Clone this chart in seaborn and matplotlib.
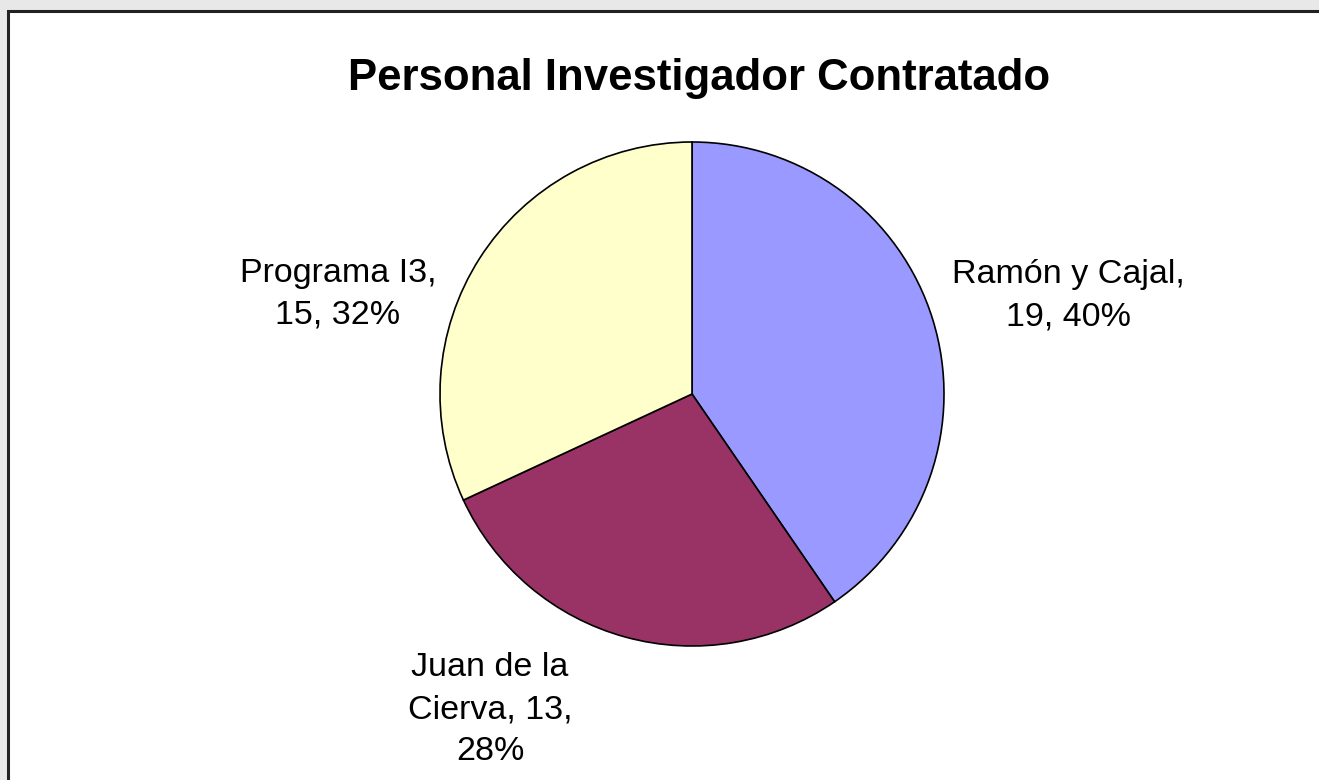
import numpy as np
import matplotlib
matplotlib.use("Agg")
import matplotlib.pyplot as plt
from matplotlib.patches import Rectangle
import seaborn as sns

# ─── Data ────────────────────────────────────────────────────────────────────
categories = ["Ramón y Cajal", "Juan de la Cierva", "Programa I3"]
counts = [19, 13, 15]
label_texts = ["Ramón y Cajal,\n19, 40%", "Juan de la\nCierva, 13,\n28%", "Programa I3,\n15, 32%"]
colors = ["#9999FF", "#993366", "#FFFFCC"]

sns.set_theme(style="white")
plt.rcParams["font.family"] = ["Liberation Sans", "DejaVu Sans"]

W, H = 1319, 780
fig = plt.figure(figsize=(W / 100, H / 100), dpi=100, facecolor="#E8E8E8")
ax = fig.add_axes([0, 0, 1, 1])

# pie (y axis gets inverted below, so counterclock=True draws clockwise on screen)
wedges, _ = ax.pie(counts, colors=colors, startangle=-90, counterclock=True,
                   center=(692, 394), radius=252, frame=True,
                   wedgeprops=dict(edgecolor="black", linewidth=1.2))
ax.set_xlim(0, W)
ax.set_ylim(H, 0)
ax.set_aspect("equal")
ax.axis("off")

# chart area frame (extends past right/bottom edges)
ax.add_patch(Rectangle((8, 11), W + 20, H + 20, facecolor="white",
                       edgecolor="#222222", linewidth=2.2, zorder=0))

# last-line baseline positions of the data labels
label_pos = [(1068, 325), (490, 760), (338, 324)]
for txt, (x, y) in zip(label_texts, label_pos):
    ax.text(x, y, txt, ha="center", va="baseline", fontsize=24.5,
            linespacing=1.45, color="black")

ax.text(699, 90, "Personal Investigador Contratado", ha="center", va="baseline",
        fontsize=31.5, fontweight="bold", color="black")

fig.savefig("out.png", dpi=100, facecolor=fig.get_facecolor())
